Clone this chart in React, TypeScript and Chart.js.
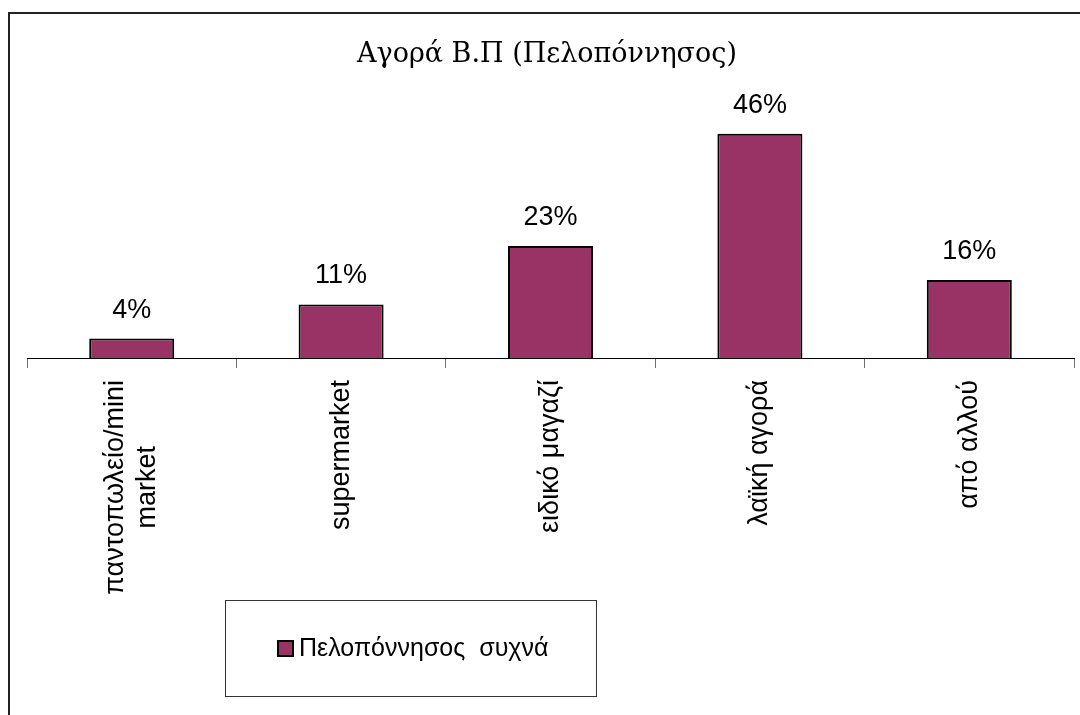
import React, { useEffect, useRef } from "react";
import { Chart, registerables } from "chart.js";

Chart.register(...registerables);

const chartTitle = "Αγορά Β.Π (Πελοπόννησος)";
const seriesName = "Πελοπόννησος  συχνά";
const categories: (string | string[])[] = [
  ["παντοπωλείο/mini", "market"],
  "supermarket",
  "ειδικό μαγαζί",
  "λαϊκή αγορά",
  "από αλλού",
];
const values = [4, 11, 23, 46, 16];
const valueLabels = ["4%", "11%", "23%", "46%", "16%"];

const BAR_COLOR = "#993366";
const SANS = "'Liberation Sans', Arial, sans-serif";
const SERIF = "'DejaVu Serif', 'Liberation Serif', serif";

const decorPlugin = {
  id: "decor",
  beforeDraw(chart: any) {
    const ctx = chart.ctx;
    ctx.save();
    ctx.fillStyle = "#ffffff";
    ctx.fillRect(0, 0, chart.width, chart.height);
    // outer frame (top and left visible)
    ctx.strokeStyle = "#222222";
    ctx.lineWidth = 2;
    ctx.beginPath();
    ctx.moveTo(9, chart.height);
    ctx.lineTo(9, 13);
    ctx.lineTo(chart.width, 13);
    ctx.stroke();
    // title
    ctx.fillStyle = "#000";
    ctx.font = `27px ${SERIF}`;
    ctx.textAlign = "center";
    ctx.textBaseline = "alphabetic";
    ctx.fillText(chartTitle, 547, 62);
    ctx.restore();
  },
  afterDraw(chart: any) {
    const ctx = chart.ctx;
    ctx.save();
    // category labels, rotated, centred block per category
    const xScale = chart.scales.x;
    const lineHeight = 32;
    const startY = chart.chartArea.bottom + 22;
    ctx.fillStyle = "#000";
    ctx.font = `27px ${SANS}`;
    ctx.textAlign = "center";
    ctx.textBaseline = "middle";
    categories.forEach((cat, i) => {
      const lines = Array.isArray(cat) ? cat : [cat];
      const maxW = Math.max(...lines.map((l) => ctx.measureText(l).width));
      const cx = xScale.getPixelForValue(i);
      const cy = startY + maxW / 2;
      lines.forEach((line, j) => {
        ctx.save();
        ctx.translate(cx + (j - (lines.length - 1) / 2) * lineHeight, cy);
        ctx.rotate(-Math.PI / 2);
        ctx.fillText(line, 0, 0);
        ctx.restore();
      });
    });
    // legend box
    ctx.strokeStyle = "#333333";
    ctx.lineWidth = 1;
    ctx.strokeRect(225.5, 600.5, 371, 96);
    ctx.fillStyle = BAR_COLOR;
    ctx.fillRect(278, 641, 15, 15);
    ctx.strokeStyle = "#000";
    ctx.lineWidth = 2;
    ctx.strokeRect(278, 641, 15, 15);
    ctx.fillStyle = "#000";
    ctx.font = `25px ${SANS}`;
    ctx.textAlign = "left";
    ctx.textBaseline = "middle";
    ctx.fillText(seriesName, 299, 649);
    ctx.restore();
  },
};

const valueLabelPlugin = {
  id: "valueLabels",
  afterDatasetsDraw(chart: any) {
    const ctx = chart.ctx;
    const meta = chart.getDatasetMeta(0);
    ctx.save();
    ctx.fillStyle = "#000";
    ctx.font = `27px ${SANS}`;
    ctx.textAlign = "center";
    ctx.textBaseline = "alphabetic";
    meta.data.forEach((bar: any, i: number) => {
      ctx.fillText(valueLabels[i], bar.x, bar.y - 21);
    });
    ctx.restore();
  },
};

export default function App() {
  const canvasRef = useRef<HTMLCanvasElement | null>(null);

  useEffect(() => {
    if (!canvasRef.current) return;
    const chart = new Chart(canvasRef.current, {
      type: "bar",
      data: {
        labels: categories,
        datasets: [
          {
            label: seriesName,
            data: values,
            backgroundColor: BAR_COLOR,
            borderColor: "#000000",
            borderWidth: 2,
            categoryPercentage: 1,
            barPercentage: 0.406,
          },
        ],
      },
      options: {
        animation: false,
        responsive: false,
        maintainAspectRatio: false,
        devicePixelRatio: 1,
        layout: { padding: { left: 27, right: 6, top: 114.25, bottom: 0 } },
        plugins: {
          legend: { display: false },
          title: { display: false },
          tooltip: { enabled: false },
        },
        scales: {
          x: {
            offset: true,
            grid: {
              offset: true,
              drawOnChartArea: false,
              drawTicks: true,
              tickLength: 10,
              color: "#707070",
              lineWidth: 1,
            },
            border: { display: true, color: "#000000", width: 1 },
            ticks: { display: false, autoSkip: false },
            afterFit: (scale: any) => {
              scale.height = 715 - 358;
            },
          },
          y: { display: false, min: 0, max: 50 },
        },
      },
      plugins: [decorPlugin, valueLabelPlugin],
    });
    return () => chart.destroy();
  }, []);

  return (
    <div style={{ position: "absolute", left: 0, top: 0, width: 1080, height: 715, background: "#fff" }}>
      <canvas ref={canvasRef} width={1080} height={715} style={{ width: 1080, height: 715, display: "block" }} />
    </div>
  );
}
